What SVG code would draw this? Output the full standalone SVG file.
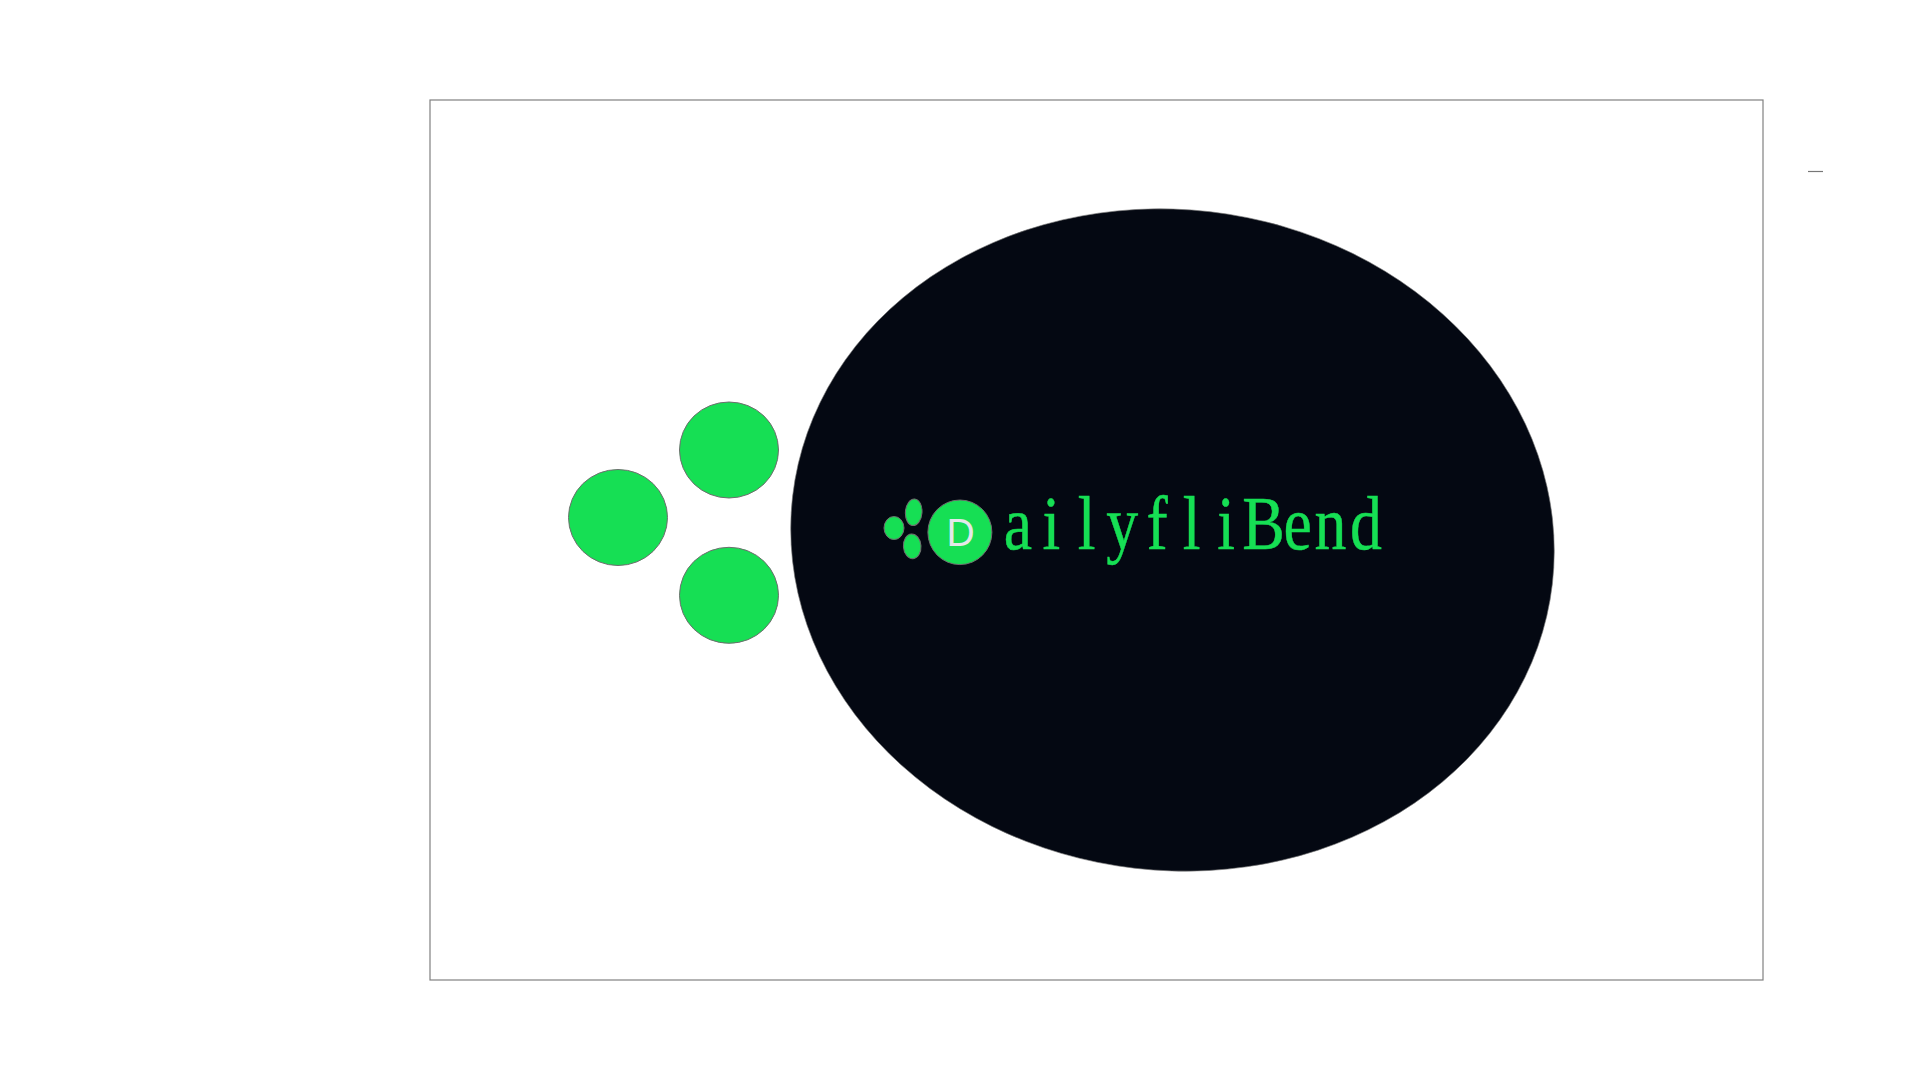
<svg xmlns="http://www.w3.org/2000/svg" width="1920" height="1080" viewBox="0 0 1920 1080">
<style>
.frame{fill:none;stroke:#808080;stroke-width:1.2}
.g{fill:#16df54;stroke:#6e6e6e;stroke-width:1}
.word{font-family:"Liberation Serif",serif;font-size:76px;fill:#16df54;stroke:#16df54;stroke-width:.5}
.d{font-family:"Liberation Sans",sans-serif;font-size:39px;fill:#e4e8ea}
</style>
<rect width="1920" height="1080" fill="#fff"/>
<g id="frame"><rect class="frame" x="430" y="100" width="1333" height="880"/></g>
<g id="dash"><line x1="1808" y1="171.500" x2="1823" y2="171.500" stroke="#777" stroke-width="1.200"/></g>
<g id="dot-left"><ellipse class="g" cx="618" cy="517.500" rx="49.500" ry="48"/></g>
<g id="dot-top"><ellipse class="g" cx="729" cy="450" rx="49.500" ry="48"/></g>
<g id="dot-bottom"><ellipse class="g" cx="729" cy="595.300" rx="49.500" ry="48"/></g>
<g id="blob"><ellipse cx="1172.500" cy="540" rx="382.400" ry="330.400" fill="#040812" stroke="#777" stroke-width=".6" transform="rotate(6.600 1172.500 540)"/></g>
<g id="logo">
<ellipse class="g" cx="894" cy="528" rx="10" ry="11.500"/>
<ellipse class="g" cx="913.700" cy="512.300" rx="8.300" ry="13.300" transform="rotate(4 913.700 512.300)"/>
<ellipse class="g" cx="912.200" cy="546.300" rx="8.800" ry="12.400" transform="rotate(-4 912.200 546.300)"/>
<ellipse class="g" cx="959.900" cy="532.300" rx="32" ry="32.300"/>
<text class="d" x="960.500" y="546" text-anchor="middle">D</text>
<text class="word" transform="translate(0 549) scale(.84 1)" x="1195 1241 1283 1317 1365 1408 1449 1479 1528 1565 1607">ailyfliBend</text>
</g>
</svg>
